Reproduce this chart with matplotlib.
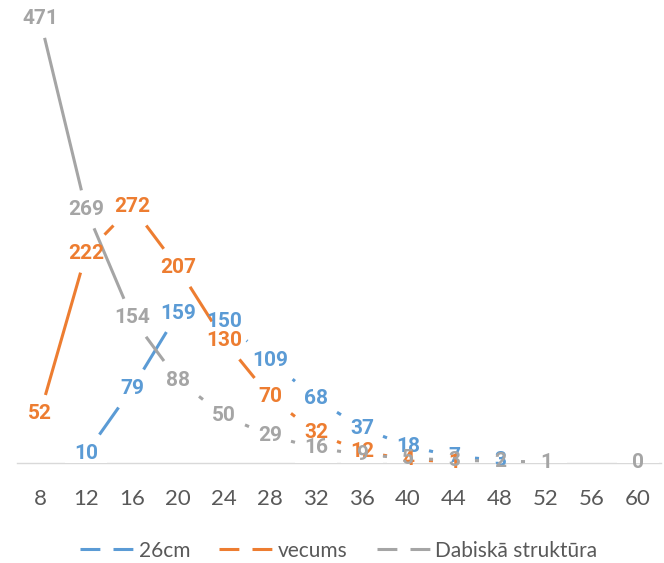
import matplotlib
matplotlib.use("Agg")
import matplotlib.pyplot as plt
from matplotlib.lines import Line2D
from matplotlib.patches import Rectangle
from matplotlib.transforms import IdentityTransform
import numpy as np

plt.rcParams['font.family'] = ['Lato', 'DejaVu Sans']

# x categories (diameter classes)
categories = ['8', '12', '16', '20', '24', '28', '32', '36', '40', '44', '48', '52', '56', '60']

# series values (nan = no point)
cm26 = [np.nan, 10, 79, 159, 150, 109, 68, 37, 18, 7, 3, np.nan, np.nan, np.nan]
vecums = [52, 222, 272, 207, 130, 70, 32, 12, 4, 1, np.nan, np.nan, np.nan, np.nan]
dabiska = [471, 269, 154, 88, 50, 29, 16, 9, 5, 3, 2, 1, np.nan, 0]

names = ['26cm', 'vecums', 'Dabiskā struktūra']
colors = ['#5B9BD5', '#ED7D31', '#A5A5A5']

fig = plt.figure(figsize=(6.64, 5.63), dpi=100)
ax = fig.add_axes([17 / 664, 100 / 563, 644 / 664, 463 / 563])

x = np.arange(len(categories))
series = [cm26, vecums, dabiska]

ax.set_xlim(-0.5, len(categories) - 0.5)
ax.set_ylim(0, 491)

renderer = fig.canvas.get_renderer()
PAD_X = 8     # px around the label text where the line stops (like Excel)
MIN_HW = 21
HALF_H = 19   # px


def exit_t(d, hw, hh):
    tx = hw / abs(d[0]) if d[0] else np.inf
    ty = hh / abs(d[1]) if d[1] else np.inf
    return min(tx, ty)


for i, (vals, c) in enumerate(zip(series, colors)):
    vals = np.asarray(vals, dtype=float)
    pts = ax.transData.transform(np.column_stack([x, vals]))
    # data labels, centred on the points
    half_w = np.zeros(len(vals))
    for xi, v in zip(x, vals):
        if np.isnan(v):
            continue
        t = ax.text(xi, v, str(int(v)), color=c, fontsize=15, fontweight='bold',
                    family=['Roboto', 'DejaVu Sans'], ha='center', va='center',
                    zorder=5 + i, clip_on=False)
        half_w[xi] = max(t.get_window_extent(renderer).width / 2 + PAD_X, MIN_HW)
        # label area blanks out the axis line behind it
        cx, cy = pts[xi]
        ax.add_patch(Rectangle((cx - half_w[xi], cy - HALF_H), 2 * half_w[xi], 2 * HALF_H,
                               transform=IdentityTransform(), fc='white', ec='none',
                               zorder=1.5))

    # line segments stop short of the series' own labels
    for k in range(len(vals) - 1):
        if np.isnan(vals[k]) or np.isnan(vals[k + 1]):
            continue
        a, b = pts[k], pts[k + 1]
        d = b - a
        ta = exit_t(d, half_w[k], HALF_H)
        tb = exit_t(d, half_w[k + 1], HALF_H)
        if ta + tb >= 1:
            continue
        seg = ax.transData.inverted().transform([a + ta * d, b - tb * d])
        ax.plot(seg[:, 0], seg[:, 1], color=c, lw=2.2, zorder=2 + i * 0.1,
                solid_capstyle='butt')

ax.set_xticks(x)
ax.set_xticklabels(categories)
ax.set_yticks([])
ax.tick_params(axis='x', length=0, pad=19, labelsize=16, labelcolor='#595959')

for s in ['top', 'right', 'left']:
    ax.spines[s].set_visible(False)
ax.spines['bottom'].set_color('#D9D9D9')
ax.spines['bottom'].set_linewidth(1.0)
ax.spines['bottom'].set_zorder(1)

handles = [Line2D([], [], color=c, lw=2.2, linestyle=(0, (6.5, 4.3))) for c in colors]
fig.legend(handles, names, loc='center', bbox_to_anchor=(0.51, 0.022), ncol=3,
           frameon=False, fontsize=15, handlelength=2.6, handletextpad=0.2,
           columnspacing=1.4, labelcolor='#595959')

fig.savefig('out.png', dpi=100)
